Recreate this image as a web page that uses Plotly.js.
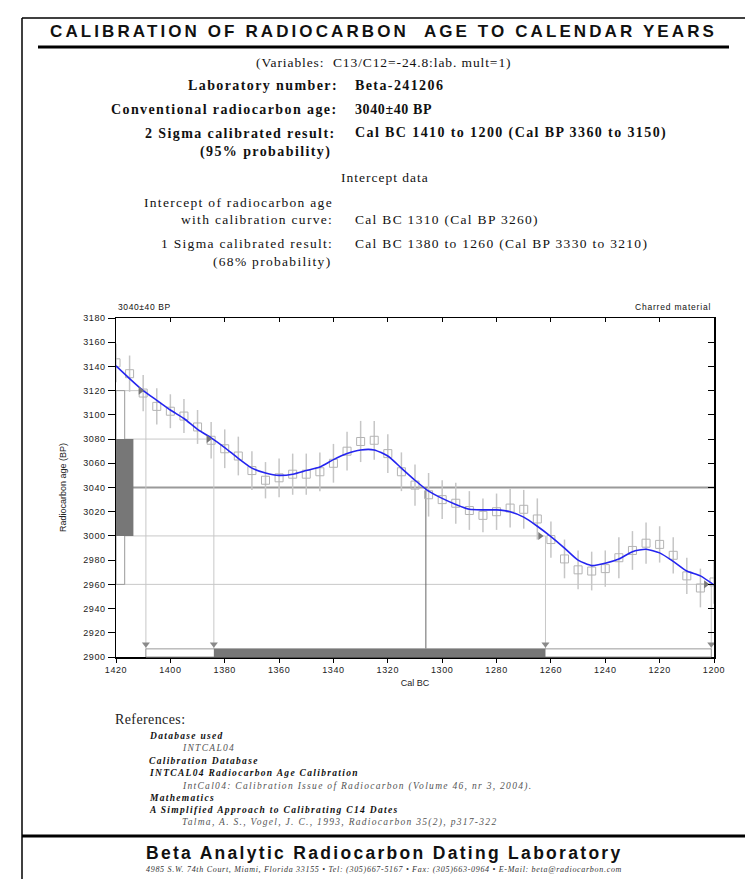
<!DOCTYPE html>
<html><head><meta charset="utf-8">
<script src="https://cdn.plot.ly/plotly-3.0.1.min.js"></script>
<style>
html,body{margin:0;padding:0;background:#fff;}
#chart{width:745px;height:879px;}
.xtick text,.ytick text{letter-spacing:0.6px;}
</style>
</head><body><div id="chart"></div>
<script>
// ---------- data ----------
const calYears = [1420,1415,1410,1405,1400,1395,1390,1385,1380,1375,1370,1365,1360,1355,1350,1345,1340,1335,1330,1325,1320,1315,1310,1305,1300,1295,1290,1285,1280,1275,1270,1265,1260,1255,1250,1245,1240,1235,1230,1225,1220,1215,1210,1205,1200];
const measuredAge = [3143,3134,3118,3107,3103,3099,3090,3079,3072,3066,3054,3046,3048,3051,3051,3053,3060,3070,3078,3079,3068,3053,3042,3034,3030,3027,3021,3017,3020,3023,3022,3014,2997,2981,2972,2971,2973,2982,2988,2994,2993,2984,2967,2957,2962];
const measuredErr = [16,15,15,15,14,14,14,15,16,16,16,15,16,17,17,16,16,16,17,16,16,16,17,18,16,17,16,14,15,16,16,17,15,16,16,16,15,17,16,17,15,15,15,16,18];
const curveAge = [3140.5,3130,3120,3112,3104,3097,3088,3081,3073,3064,3056,3052,3050,3051,3054,3057,3063,3068,3071,3071,3066,3056,3046,3037,3031,3026,3022,3021.5,3021.5,3020,3015.5,3008,2999.5,2990,2980,2975.5,2977.5,2981,2987,2989,2986,2979,2971,2967,2959.5];
const sampleAge = 3040, sampleErr = 40;
const twoSigma = [1409, 1201];
const oneSigma = [1384, 1262];
const interceptYear = 1306;
const xTicks = [1420,1400,1380,1360,1340,1320,1300,1280,1260,1240,1220,1200];
const yTicks = [2900,2920,2940,2960,2980,3000,3020,3040,3060,3080,3100,3120,3140,3160,3180];

// ---------- page geometry helpers ----------
const L=116, R=714, T=318, B=657;
const px = x => (x-L)/(R-L);
const py = y => (B-y)/(B-T);
const serif = 'Liberation Serif, Times New Roman, serif';
const sans = 'Liberation Sans, Arial, sans-serif';

const spacing = [];
function A(text, x, y, o){
  o = o||{};
  if(o.ls) spacing.push([text, o.ls]);
  return {text:text, xref:'paper', yref:'paper', x:px(x), y:py(y),
    xanchor:o.anchor||'left', yanchor:'middle', showarrow:false,
    font:{family:o.family||serif, size:o.size||14, color:o.color||'#111',
          weight:o.weight||'normal', style:o.style||'normal'}};
}
const bold = {weight:'bold', ls:1.4};
const reg = {size:13.5, ls:1.3};
const R_ = o => Object.assign({anchor:'right'}, o);
const annotations = [
  A('CALIBRATION OF RADIOCARBON\u00a0 AGE TO CALENDAR YEARS', 383, 31, {anchor:'center', family:sans, size:17, weight:'bold', ls:3.1}),
  A('(Variables:\u00a0 C13/C12=-24.8:lab. mult=1)', 383, 62, {anchor:'center', size:13.5, ls:0.9}),
  A('Laboratory number:', 340, 86, R_(bold)),
  A('Beta-241206', 353, 86, bold),
  A('Conventional radiocarbon age:', 340, 109, R_(bold)),
  A('3040±40 BP', 353, 109, bold),
  A('2 Sigma calibrated result:', 338, 133, R_(bold)),
  A('(95% probability)', 333, 152, R_(bold)),
  A('Cal BC 1410 to 1200 (Cal BP 3360 to 3150)', 353, 133, bold),
  A('Intercept data', 385, 178, {anchor:'center', size:13.5, ls:1.0}),
  A('Intercept of radiocarbon age', 335, 202, R_(reg)),
  A('with calibration curve:', 335, 220, R_(reg)),
  A('Cal BC 1310 (Cal BP 3260)', 353, 220, reg),
  A('1 Sigma calibrated result:', 335, 243, R_(reg)),
  A('(68% probability)', 333, 261, R_(reg)),
  A('Cal BC 1380 to 1260 (Cal BP 3330 to 3210)', 353, 243, reg),
  A('3040±40 BP', 116, 307, {family:sans, size:8.5, ls:0.6}),
  A('Charred material', 713, 307, {anchor:'right', family:sans, size:8.5, ls:0.8}),
  A('References:', 113, 719, {size:14, ls:0.4, color:'#222'}),
  A('Database used', 147, 736, {size:9.5, weight:'bold', style:'italic', ls:1.3}),
  A('INTCAL04', 180, 748, {size:9.5, style:'italic', ls:1.3, color:'#555'}),
  A('Calibration Database', 147, 761, {size:9.5, weight:'bold', style:'italic', ls:1.3}),
  A('INTCAL04 Radiocarbon Age Calibration', 147, 773, {size:9.5, weight:'bold', style:'italic', ls:1.3}),
  A('IntCal04: Calibration Issue of Radiocarbon (Volume 46, nr 3, 2004).', 180, 786, {size:9.5, style:'italic', ls:1.3, color:'#555'}),
  A('Mathematics', 147, 798, {size:9.5, weight:'bold', style:'italic', ls:1.3}),
  A('A Simplified Approach to Calibrating C14 Dates', 147, 810, {size:9.5, weight:'bold', style:'italic', ls:1.3}),
  A('Talma, A. S., Vogel, J. C., 1993, Radiocarbon 35(2), p317-322', 180, 822, {size:9.5, style:'italic', ls:1.3, color:'#555'}),
  A('Beta Analytic Radiocarbon Dating Laboratory', 384, 853, {anchor:'center', family:sans, size:17.5, weight:'bold', ls:2.3}),
  A('4985 S.W. 74th Court, Miami, Florida 33155 • Tel: (305)667-5167 • Fax: (305)663-0964 • E-Mail: beta@radiocarbon.com', 384, 869, {anchor:'center', size:8, style:'italic', ls:0.7, color:'#333'})
];

// letter spacing rules
(function(){
  let css='';
  spacing.forEach(([t,ls])=>{ css += 'text.annotation-text[data-unformatted="'+t.replace(/"/g,'\\"')+'"]{letter-spacing:'+ls+'px;}\n'; });
  const s=document.createElement('style'); s.textContent=css; document.head.appendChild(s);
})();

// ---------- shapes ----------
const hi1 = sampleAge+sampleErr, lo1 = sampleAge-sampleErr;
const hi2 = sampleAge+2*sampleErr, lo2 = sampleAge-2*sampleErr;
const yMin = yTicks[0];
const xStart = xTicks[0], xEnd = xTicks[xTicks.length-1];
const light = '#c8c8c8';
function seg(x0,y0,x1,y1,color,width){return {type:'line',xref:'x',yref:'y',x0:x0,y0:y0,x1:x1,y1:y1,line:{color:color,width:width},layer:'below'};}
function pline(x0,y0,x1,y1,w){return {type:'line',xref:'paper',yref:'paper',x0:px(x0),y0:py(y0),x1:px(x1),y1:py(y1),line:{color:'#000',width:w}};}
const shapes = [
  seg(xStart,hi2,twoSigma[0],hi2,light,1),
  seg(xStart,hi1,oneSigma[0],hi1,light,1),
  seg(xStart,lo1,oneSigma[1],lo1,light,1),
  seg(xStart,lo2,twoSigma[1],lo2,light,1),
  seg(xStart,sampleAge,xEnd,sampleAge,'#9a9a9a',2),
  seg(twoSigma[0],hi2,twoSigma[0],yMin,light,1),
  seg(oneSigma[0],hi1,oneSigma[0],yMin,light,1),
  seg(oneSigma[1],lo1,oneSigma[1],yMin,light,1),
  seg(twoSigma[1],lo2,twoSigma[1],yMin,light,1),
  seg(interceptYear,sampleAge,interceptYear,yMin,'#666',1),
  // probability bars on the age axis
  {type:'rect',xref:'x',yref:'y',x0:xStart,x1:xStart-3.2,y0:lo2,y1:hi2,fillcolor:'#fff',line:{color:'#999',width:1}},
  {type:'rect',xref:'x',yref:'y',x0:xStart,x1:xStart-6.4,y0:lo1,y1:hi1,fillcolor:'#777',line:{width:0}},
  // calibrated ranges on the calendar axis
  {type:'rect',xref:'x',yref:'paper',x0:twoSigma[0],x1:twoSigma[1],y0:0,y1:0.024,fillcolor:'#fff',line:{color:'#999',width:1}},
  {type:'rect',xref:'x',yref:'paper',x0:oneSigma[0],x1:oneSigma[1],y0:0,y1:0.024,fillcolor:'#777',line:{width:0}},
  // page frame & rules
  pline(22,18,22,879,1.5),
  pline(22,18,745,18,1.5),
  pline(38,47,729,47,3),
  pline(22,836,745,836,3)
];

// ---------- traces ----------
const traces = [
  {x:calYears, y:measuredAge, mode:'markers', type:'scatter', showlegend:false, hoverinfo:'skip',
   marker:{symbol:'square-open', size:8, color:'#b4b4b4', line:{width:1}},
   error_y:{type:'data', array:measuredErr, visible:true, color:'#c6c6c6', thickness:1.5, width:0}},
  {x:calYears, y:curveAge, mode:'lines', type:'scatter', showlegend:false, hoverinfo:'skip',
   line:{color:'#2424f0', width:1.6, shape:'spline', smoothing:0.6}},
  {x:[twoSigma[0]+2, oneSigma[0]+2, oneSigma[1]+2, twoSigma[1]+2], y:[hi2,hi1,lo1,lo2], mode:'markers', type:'scatter', showlegend:false, hoverinfo:'skip',
   marker:{symbol:'triangle-right', size:7, color:'#777'}},
  {x:[twoSigma[0], oneSigma[0], oneSigma[1], twoSigma[1]], y:[yMin+10.5,yMin+10.5,yMin+10.5,yMin+10.5], mode:'markers', type:'scatter', showlegend:false, hoverinfo:'skip',
   marker:{symbol:'triangle-down', size:7, color:'#8a8a8a'}},
  {x:[], y:[], xaxis:'x2', yaxis:'y2', type:'scatter', showlegend:false, hoverinfo:'skip'}
];

const tickfont = {family:sans, size:9, color:'#222'};
const layout = {
  width:745, height:879, margin:{l:L, r:745-R, t:T, b:879-B},
  paper_bgcolor:'#fff', plot_bgcolor:'#fff', showlegend:false,
  font:{family:serif},
  xaxis:{range:[xStart,xEnd], tickvals:xTicks, ticktext:xTicks.map(String), ticks:'outside', ticklen:4, tickwidth:1, tickcolor:'#000',
         showline:true, linecolor:'#000', linewidth:1.5, mirror:true, showgrid:false, zeroline:false, tickfont:tickfont,
         title:{text:'Cal BC', font:{family:sans, size:9, color:'#222'}, standoff:5}},
  yaxis:{range:[yMin, yTicks[yTicks.length-1]], tickvals:yTicks, ticktext:yTicks.map(String), ticks:'outside', ticklen:7, tickwidth:1, tickcolor:'#000',
         showline:true, linecolor:'#000', linewidth:1.5, mirror:true, showgrid:false, zeroline:false, tickfont:tickfont,
         title:{text:'Radiocarbon age (BP)', font:{family:sans, size:9, color:'#222'}, standoff:15}},
  xaxis2:{overlaying:'x', anchor:'y', side:'top', range:[xStart,xEnd], tickvals:xTicks, ticks:'inside', ticklen:4, tickcolor:'#000',
          showticklabels:false, showline:false, showgrid:false, zeroline:false},
  yaxis2:{overlaying:'y', anchor:'x', side:'right', range:[yMin, yTicks[yTicks.length-1]], tickvals:yTicks, ticks:'inside', ticklen:6, tickcolor:'#000',
          showticklabels:false, showline:false, showgrid:false, zeroline:false},
  shapes:shapes, annotations:annotations
};
Plotly.newPlot('chart', traces, layout, {staticPlot:true, displayModeBar:false});
</script>
</body></html>
